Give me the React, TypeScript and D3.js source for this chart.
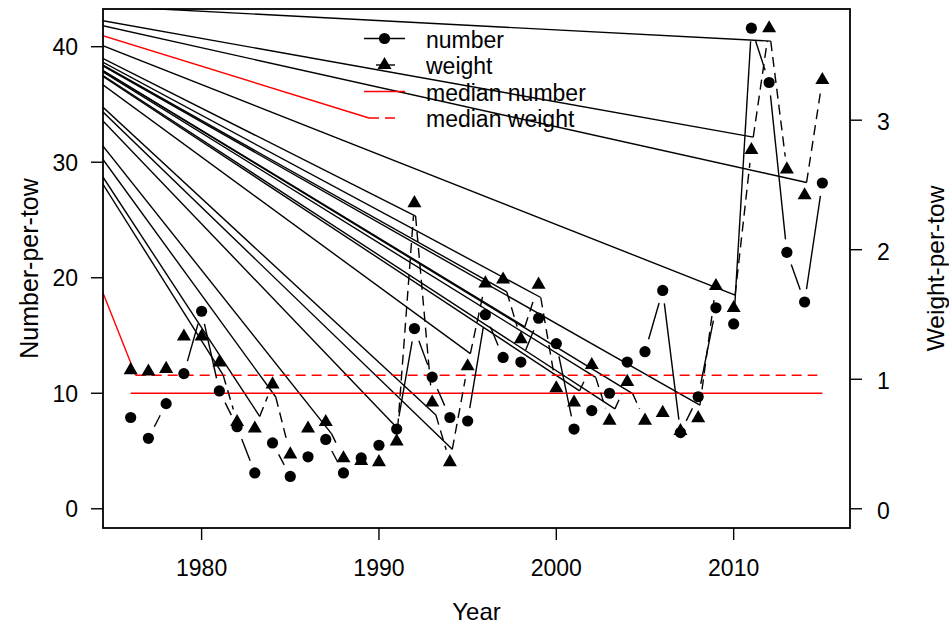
import React from 'react';
import * as d3 from 'd3';

const years = [1976, 1977, 1978, 1979, 1980, 1981, 1982, 1983, 1984, 1985,
  1986, 1987, 1988, 1989, 1990, 1991, 1992, 1993, 1994, 1995,
  1996, 1997, 1998, 1999, 2000, 2001, 2002, 2003, 2004, 2005,
  2006, 2007, 2008, 2009, 2010, 2011, 2012, 2013, 2014, 2015];

const numberPerTow = [7.9, 6.1, 9.1, 11.7, 17.1, 10.2, 7.1, 3.1, 5.7, 2.8,
  4.5, 6.0, 3.1, 4.4, 5.5, 6.9, 15.6, 11.4, 7.9, 7.6,
  16.8, 13.1, 12.7, 16.5, 14.3, 6.9, 8.5, 10.0, 12.7, 13.6,
  18.9, 6.6, 9.7, 17.4, 16.0, 41.6, 36.9, 22.2, 17.9, 28.2];

const weightPerTow = [1.07, 1.06, 1.08, 1.33, 1.33, 1.13, 0.67, 0.62, 0.96, 0.42,
  0.62, 0.67, 0.39, 0.37, 0.36, 0.52, 2.36, 0.82, 0.36, 1.10,
  1.74, 1.77, 1.31, 1.73, 0.93, 0.82, 1.11, 0.68, 0.98, 0.68,
  0.74, 0.60, 0.70, 1.72, 1.55, 2.77, 3.71, 2.62, 2.42, 3.31];

const medianNumber = 10.0;
const medianWeight = 1.03;

const xTicks = [1980, 1990, 2000, 2010];
const leftTicks = [0, 10, 20, 30, 40];
const rightTicks = [0, 1, 2, 3];
const legendLabels = ['number', 'weight', 'median number', 'median weight'];

const W = 949, H = 627;
const box = { left: 103, right: 850, top: 9, bottom: 528 };
const origin = [-13, 0]; // where the stray lines in the picture come from
const gap = 13;
const minDist = 37; // shorter steps get no segment
const font = '"Liberation Sans", Arial, Helvetica, sans-serif';

// type="b" style: segments between points, shortened at both ends
function gapSegments(pts) {
  const segs = [];
  for (let i = 0; i < pts.length - 1; i++) {
    const [x0, y0] = pts[i], [x1, y1] = pts[i + 1];
    const d = Math.hypot(x1 - x0, y1 - y0);
    if (d < minDist) continue;
    const ux = (x1 - x0) / d, uy = (y1 - y0) / d;
    segs.push([x0 + ux * gap, y0 + uy * gap, x1 - ux * gap, y1 - uy * gap]);
  }
  return segs;
}

function triangle(cx, cy, s = 5.2) {
  const r = 1.5551 * s, xc = 1.3468 * s, yc = 0.7776 * s;
  return `M${cx},${cy - r}L${cx + xc},${cy + yc}L${cx - xc},${cy + yc}Z`;
}

export default function App() {
  const span = years[years.length - 1] - years[0];
  const x = d3.scaleLinear()
    .domain([years[0] - span * 0.04, years[years.length - 1] + span * 0.04])
    .range([box.left, box.right]);
  const maxN = d3.max(numberPerTow);
  const maxW = d3.max(weightPerTow);
  const yN = d3.scaleLinear().domain([-0.04 * maxN, 1.04 * maxN]).range([box.bottom, box.top]);
  const yW = d3.scaleLinear().domain([-0.04 * maxW, 1.04 * maxW]).range([box.bottom, box.top]);

  const nPts = years.map((yr, i) => [x(yr), yN(numberPerTow[i])]);
  const wPts = years.map((yr, i) => [x(yr), yW(weightPerTow[i])]);
  const nSegs = gapSegments(nPts);
  const wSegs = gapSegments(wPts);

  const x0 = x(years[0]), x1 = x(years[years.length - 1]);
  const legX = 364, legX2 = 405, legY = 38.5, legStep = 26.5;

  const stray = wSegs.map(s => [s[0], s[1]]);

  return (
    <div style={{ position: 'absolute', left: 0, top: 0 }}>
      <svg width={W} height={H} style={{ display: 'block', background: '#fff', fontFamily: font }}>
        <defs>
          <clipPath id="plotClip">
            <rect x={box.left} y={box.top} width={box.right - box.left} height={box.bottom - box.top} />
          </clipPath>
        </defs>

        {/* stray lines */}
        <g clipPath="url(#plotClip)" strokeWidth={1.4}>
          {stray.map((p, i) => (
            <line key={i} x1={origin[0]} y1={origin[1]} x2={p[0]} y2={p[1]} stroke="#000" />
          ))}
          <line x1={origin[0]} y1={origin[1]} x2={x0 + 5} y2={yW(medianWeight)} stroke="#ff0000" />
          <line x1={origin[0]} y1={origin[1]} x2={legX + 5} y2={legY + 3 * legStep} stroke="#ff0000" />
        </g>

        {/* medians */}
        <line x1={x0} x2={x1} y1={yN(medianNumber)} y2={yN(medianNumber)} stroke="#ff0000" strokeWidth={1.5} />
        <line x1={x0 + 5} x2={x1 - 5} y1={yW(medianWeight)} y2={yW(medianWeight)} stroke="#ff0000" strokeWidth={1.5} strokeDasharray="10,6" />

        {/* series lines */}
        {nSegs.map((s, i) => (
          <line key={'n' + i} x1={s[0]} y1={s[1]} x2={s[2]} y2={s[3]} stroke="#000" strokeWidth={1.4} />
        ))}
        {wSegs.map((s, i) => (
          <line key={'w' + i} x1={s[0]} y1={s[1]} x2={s[2]} y2={s[3]} stroke="#000" strokeWidth={1.4} strokeDasharray="10,6" />
        ))}

        {/* points */}
        {nPts.map((p, i) => <circle key={'c' + i} cx={p[0]} cy={p[1]} r={5.6} fill="#000" />)}
        {wPts.map((p, i) => <path key={'t' + i} d={triangle(p[0], p[1])} fill="#000" />)}

        {/* box */}
        <rect x={box.left} y={box.top} width={box.right - box.left} height={box.bottom - box.top}
          fill="none" stroke="#000" strokeWidth={1.8} />

        {/* bottom axis */}
        {xTicks.map(t => (
          <g key={t}>
            <line x1={x(t)} x2={x(t)} y1={box.bottom} y2={box.bottom + 12} stroke="#000" strokeWidth={1.4} />
            <text x={x(t)} y={576} textAnchor="middle" fontSize={23}>{t}</text>
          </g>
        ))}
        <text x={(box.left + box.right) / 2} y={620} textAnchor="middle" fontSize={24}>Year</text>

        {/* left axis */}
        {leftTicks.map(t => (
          <g key={t}>
            <line x1={box.left - 12} x2={box.left} y1={yN(t)} y2={yN(t)} stroke="#000" strokeWidth={1.4} />
            <text x={78} y={yN(t) + 8.5} textAnchor="end" fontSize={23}>{t}</text>
          </g>
        ))}
        <text transform={`translate(38,${(box.top + box.bottom) / 2}) rotate(-90)`} textAnchor="middle" fontSize={25}>
          Number-per-tow
        </text>

        {/* right axis */}
        {rightTicks.map(t => (
          <g key={t}>
            <line x1={box.right} x2={box.right + 12} y1={yW(t)} y2={yW(t)} stroke="#000" strokeWidth={1.4} />
            <text x={877} y={yW(t) + 10} textAnchor="start" fontSize={23}>{t}</text>
          </g>
        ))}
        <text transform={`translate(944,${(box.top + box.bottom) / 2}) rotate(-90)`} textAnchor="middle" fontSize={24.5}>
          Weight-per-tow
        </text>

        {/* legend */}
        <g>
          <line x1={legX} x2={legX2} y1={legY} y2={legY} stroke="#000" strokeWidth={1.4} />
          <circle cx={(legX + legX2) / 2} cy={legY} r={5.6} fill="#000" />
          <line x1={legX + 12} x2={legX2 - 10} y1={legY + legStep} y2={legY + legStep} stroke="#000" strokeWidth={1.4} />
          <path d={triangle((legX + legX2) / 2, legY + legStep)} fill="#000" />
          <line x1={legX} x2={legX2} y1={legY + 2 * legStep} y2={legY + 2 * legStep} stroke="#ff0000" strokeWidth={1.5} />
          <line x1={legX + 5} x2={legX2 - 10} y1={legY + 3 * legStep} y2={legY + 3 * legStep} stroke="#ff0000" strokeWidth={1.5} strokeDasharray="10,6" />
          {legendLabels.map((l, i) => (
            <text key={l} x={426} y={legY + i * legStep + 9} fontSize={23}>{l}</text>
          ))}
        </g>
      </svg>
    </div>
  );
}
